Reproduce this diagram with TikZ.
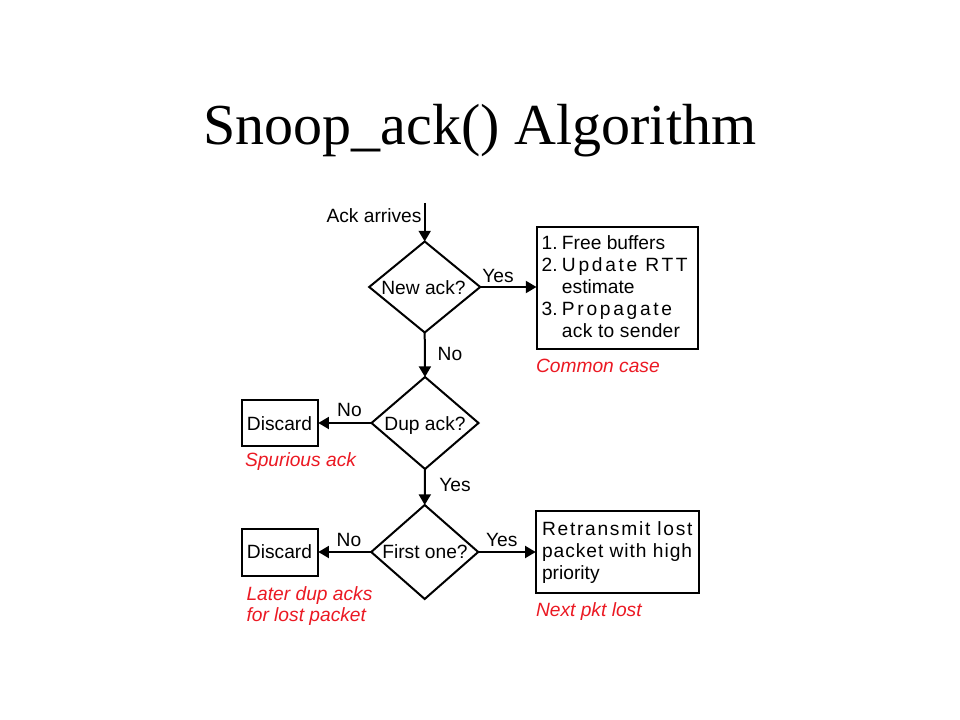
\documentclass[tikz,border=0pt]{standalone}
\usepackage{fontspec}
\setmainfont{Liberation Serif}
\newfontfamily\arialf{Liberation Sans}
\usetikzlibrary{shapes.geometric,arrows.meta}
\definecolor{notered}{RGB}{235,25,35}
\newcommand{\lsp}[2]{{\addfontfeature{LetterSpace=#1}#2}}
\begin{document}
\begin{tikzpicture}[x=0.75pt,y=-0.75pt,
  every node/.style={inner sep=0pt,outer sep=0pt},
  txt/.style={font=\arialf\fontsize{14.4pt}{16.5pt}\selectfont},
  note/.style={font=\arialf\itshape\fontsize{14.4pt}{16.5pt}\selectfont,text=notered},
  dia/.style={diamond,draw,line width=1.5pt,minimum width=80.25pt,minimum height=69pt},
  boxn/.style={rectangle,draw,line width=1.5pt},
  arr/.style={line width=1.5pt,-{Triangle[length=8pt,width=9pt]}}]
\useasboundingbox (0,0) rectangle (960,720);
% title
\node[anchor=base,font=\fontsize{43.5pt}{50pt}\selectfont] (title) at (480,145) {Snoop\_ack() Algorithm};
% diamonds
\node[dia,minimum width=83.25pt,minimum height=68.25pt] (d1) at (424.7,287) {};
\node[dia] (d2) at (425,423) {};
\node[dia,minimum height=70.5pt] (d3) at (424.7,552) {};
\node[txt,anchor=base] (d1t) at (423.5,295) {New ack?};
\node[txt,anchor=base] (d2t) at (425,430) {Dup ack?};
\node[txt,anchor=base] (d3t) at (425,558.3) {First one?};
% boxes
\node[boxn,minimum width=120.75pt,minimum height=90.75pt] (b1) at (617,288) {};
\node[boxn,minimum width=57.45pt,minimum height=34.5pt] (k1) at (280,423) {};
\node[boxn,minimum width=57.45pt,minimum height=34.8pt] (k2) at (280,552.5) {};
\node[boxn,minimum width=122.7pt,minimum height=61.95pt] (b3) at (617.5,552) {};
% box texts
\node[txt,anchor=base west] (b1t) at (541.7,250) {\begin{tabular}[t]{@{}l@{\hspace{3.2pt}}l@{}}
1.&Free buffers\\
2.&\lsp{14}{Update RTT}\\
&estimate\\
3.&\lsp{14}{Propagate}\\
&\lsp{1.5}{ack to sender}
\end{tabular}};
\node[txt,anchor=base] (k1t) at (279.5,430) {Discard};
\node[txt,anchor=base] (k2t) at (279.5,558.3) {Discard};
\node[txt,anchor=base west] (b3t) at (542,535.7) {\begin{tabular}[t]{@{}l@{}}
\lsp{9}{Retransmit lost}\\
\lsp{5}{packet with high}\\
priority
\end{tabular}};
% start
\coordinate (start) at (424.7,203);
\node[txt,anchor=base east] (ackarr) at (421.5,223) {Ack arrives};
% connectors
\draw[arr] (start) -- (d1.north);
\draw[arr] (d1.east) -- (d1.east -| b1.west);
\draw[arr] (d1.south) -- (d2.north);
\draw[arr] (d2.west) -- (d2.west -| k1.east);
\draw[arr] (d2.south) -- (d3.north);
\draw[arr] (d3.west) -- (d3.west -| k2.east);
\draw[arr] (d3.east) -- (d3.east -| b3.west);
% edge labels
\node[txt,anchor=base] (y1) at (498,282) {Yes};
\node[txt,anchor=base] (n1) at (450,360) {No};
\node[txt,anchor=base] (n2) at (349.5,416.7) {No};
\node[txt,anchor=base] (y2) at (455,491.7) {Yes};
\node[txt,anchor=base] (n3) at (349,546) {No};
\node[txt,anchor=base] (y3) at (501.7,546) {Yes};
% notes
\node[note,anchor=base west] (c1) at (536,372) {Common case};
\node[note,anchor=base west] (c2) at (245,466.7) {Spurious ack};
\node[note,anchor=base west] (c3) at (246.5,600) {\begin{tabular}[t]{@{}l@{}}Later dup acks\\[-0.5pt] for lost packet\end{tabular}};
\node[note,anchor=base west] (c4) at (536,616.7) {Next pkt lost};
\end{tikzpicture}
\end{document}
